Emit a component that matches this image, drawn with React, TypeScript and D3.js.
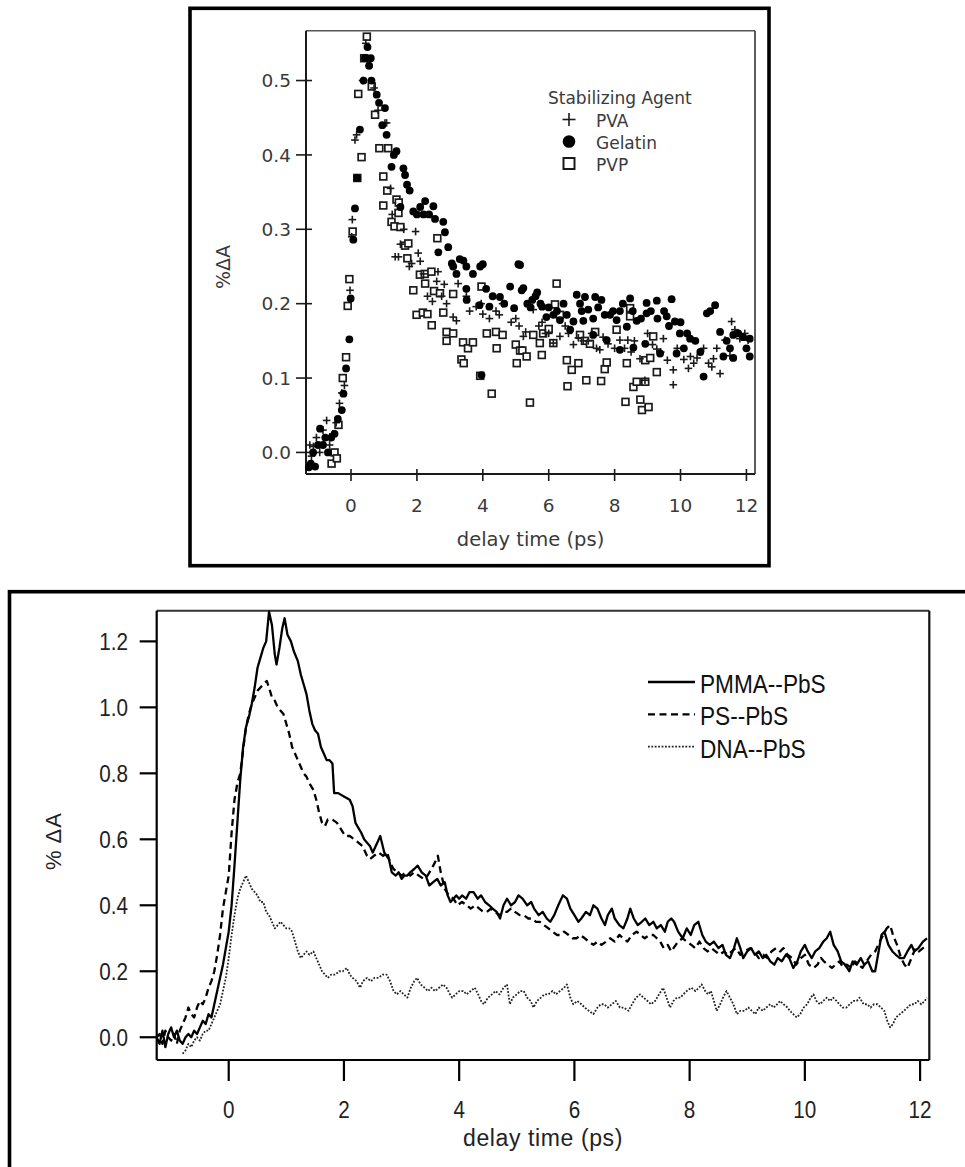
import * as d3 from 'd3';

// ---- top panel: transient absorption vs stabilizing agent (t in ps, %dA)
const pvaPoints: [number, number][] = [
  [-1.25, 0.01], [-1.2, -0.005], [-1.14, 0.008], [-1.05, 0.02], [-0.95, 0.0], [-0.85, 0.03],
  [-0.74, 0.043], [-0.65, 0.01], [-0.55, 0.025], [-0.45, 0.04], [-0.35, 0.066], [-0.28, 0.08],
  [-0.2, 0.09], [-0.03, 0.218], [0.02, 0.29], [0.04, 0.313], [0.12, 0.42], [0.17, 0.427],
  [0.35, 0.5], [0.45, 0.55], [0.55, 0.52], [0.7, 0.49], [0.82, 0.46], [1.03, 0.443],
  [1.08, 0.443], [1.2, 0.355], [1.25, 0.32], [1.34, 0.263], [1.44, 0.263], [1.5, 0.28],
  [1.6, 0.3], [1.77, 0.25], [1.84, 0.254], [1.96, 0.297], [2.04, 0.268], [2.1, 0.257],
  [2.2, 0.24], [2.32, 0.21], [2.47, 0.203], [2.6, 0.23], [2.64, 0.243], [2.75, 0.21],
  [2.83, 0.226], [2.9, 0.2], [3.1, 0.182], [3.2, 0.177], [3.25, 0.227], [3.5, 0.21],
  [3.6, 0.19], [3.8, 0.196], [3.95, 0.2], [4.0, 0.186], [4.2, 0.18], [4.4, 0.19],
  [4.5, 0.185], [4.6, 0.2], [4.86, 0.175], [5.0, 0.18], [5.1, 0.17], [5.23, 0.156],
  [5.3, 0.162], [5.53, 0.192], [5.7, 0.17], [5.8, 0.175], [5.9, 0.16], [6.0, 0.16],
  [6.14, 0.147], [6.34, 0.156], [6.5, 0.17], [6.6, 0.16], [6.75, 0.145], [6.9, 0.154],
  [7.05, 0.15], [7.2, 0.15], [7.3, 0.16], [7.45, 0.14], [7.55, 0.138], [7.65, 0.155],
  [7.8, 0.146], [8.0, 0.14], [8.16, 0.151], [8.3, 0.14], [8.4, 0.151], [8.5, 0.135],
  [8.6, 0.15], [8.77, 0.126], [8.92, 0.097], [9.0, 0.16], [9.15, 0.145], [9.28, 0.139],
  [9.4, 0.135], [9.48, 0.153], [9.6, 0.124], [9.78, 0.111], [9.78, 0.091], [9.9, 0.14],
  [10.1, 0.125], [10.24, 0.113], [10.3, 0.129], [10.4, 0.12], [10.5, 0.127], [10.7, 0.14],
  [10.85, 0.12], [10.95, 0.115], [11.0, 0.126], [11.1, 0.14], [11.2, 0.106], [11.35, 0.151],
  [11.5, 0.13], [11.55, 0.176], [11.65, 0.165], [11.8, 0.153], [11.95, 0.16], [12.05, 0.151],
];

const gelatinPoints: [number, number][] = [
  [-1.28, -0.02], [-1.22, -0.015], [-1.15, 0.0], [-1.09, -0.019], [-1.0, 0.01], [-0.94, 0.032],
  [-0.85, 0.01], [-0.78, 0.02], [-0.7, 0.0], [-0.6, 0.02], [-0.5, 0.025], [-0.4, 0.045],
  [-0.28, 0.057], [-0.23, 0.079], [-0.15, 0.113], [-0.05, 0.152], [-0.01, 0.207], [0.07, 0.286],
  [0.12, 0.328], [0.19, 0.369], [0.27, 0.434], [0.38, 0.5], [0.42, 0.53], [0.5, 0.545],
  [0.55, 0.52], [0.6, 0.53], [0.62, 0.5], [0.78, 0.481], [0.85, 0.47], [0.95, 0.44],
  [1.03, 0.463], [1.08, 0.427], [1.23, 0.384], [1.3, 0.4], [1.38, 0.405], [1.5, 0.33],
  [1.59, 0.382], [1.64, 0.373], [1.7, 0.36], [1.78, 0.352], [1.89, 0.324], [2.0, 0.32],
  [2.1, 0.33], [2.2, 0.32], [2.25, 0.338], [2.37, 0.32], [2.5, 0.331], [2.55, 0.314],
  [2.65, 0.269], [2.8, 0.31], [2.85, 0.296], [2.95, 0.276], [3.06, 0.254], [3.1, 0.25],
  [3.2, 0.24], [3.3, 0.26], [3.41, 0.258], [3.5, 0.25], [3.5, 0.22], [3.51, 0.205],
  [3.7, 0.24], [3.9, 0.198], [3.92, 0.25], [3.96, 0.104], [4.0, 0.253], [4.1, 0.22],
  [4.2, 0.196], [4.3, 0.21], [4.52, 0.209], [4.65, 0.2], [4.83, 0.223], [4.95, 0.194],
  [5.08, 0.253], [5.13, 0.252], [5.18, 0.218], [5.23, 0.221], [5.35, 0.2], [5.45, 0.195],
  [5.5, 0.205], [5.6, 0.21], [5.65, 0.215], [5.75, 0.2], [5.8, 0.196], [5.93, 0.182],
  [6.0, 0.195], [6.14, 0.185], [6.25, 0.19], [6.34, 0.178], [6.45, 0.2], [6.55, 0.185],
  [6.65, 0.165], [6.75, 0.176], [6.85, 0.212], [6.95, 0.2], [7.0, 0.19], [7.05, 0.177],
  [7.1, 0.209], [7.2, 0.192], [7.35, 0.18], [7.35, 0.158], [7.41, 0.209], [7.5, 0.195],
  [7.6, 0.205], [7.7, 0.185], [7.76, 0.151], [7.86, 0.185], [7.95, 0.19], [8.06, 0.178],
  [8.16, 0.19], [8.16, 0.138], [8.25, 0.2], [8.37, 0.169], [8.47, 0.207], [8.55, 0.19],
  [8.57, 0.141], [8.67, 0.177], [8.8, 0.18], [8.93, 0.146], [8.97, 0.187], [8.97, 0.201],
  [9.1, 0.19], [9.28, 0.204], [9.3, 0.18], [9.38, 0.133], [9.5, 0.19], [9.58, 0.183],
  [9.65, 0.17], [9.73, 0.206], [9.83, 0.176], [9.88, 0.133], [9.98, 0.16], [10.0, 0.175],
  [10.1, 0.14], [10.2, 0.16], [10.29, 0.153], [10.45, 0.15], [10.6, 0.135], [10.7, 0.102],
  [10.8, 0.187], [10.9, 0.19], [11.05, 0.198], [11.2, 0.162], [11.3, 0.129], [11.4, 0.15],
  [11.5, 0.14], [11.6, 0.158], [11.6, 0.127], [11.75, 0.16], [11.9, 0.155], [12.0, 0.14],
  [12.1, 0.153], [12.1, 0.129],
];

const pvpPoints: [number, number][] = [
  [-0.59, -0.015], [-0.5, 0.0], [-0.43, -0.008], [-0.38, 0.037], [-0.25, 0.1], [-0.15, 0.128],
  [-0.1, 0.197], [-0.05, 0.233], [0.05, 0.297], [0.19, 0.369], [0.22, 0.482], [0.32, 0.397],
  [0.4, 0.53], [0.48, 0.559], [0.63, 0.492], [0.73, 0.454], [0.86, 0.409], [0.98, 0.371],
  [0.98, 0.332], [1.1, 0.352], [1.13, 0.409], [1.23, 0.31], [1.32, 0.304], [1.38, 0.34],
  [1.44, 0.322], [1.45, 0.336], [1.5, 0.303], [1.64, 0.278], [1.71, 0.261], [1.74, 0.281],
  [1.89, 0.218], [1.99, 0.185], [2.09, 0.239], [2.18, 0.188], [2.24, 0.24], [2.25, 0.227],
  [2.32, 0.186], [2.44, 0.243], [2.45, 0.171], [2.52, 0.217], [2.62, 0.288], [2.7, 0.214],
  [2.8, 0.188], [2.9, 0.162], [2.9, 0.15], [3.1, 0.213], [3.1, 0.16], [3.35, 0.125],
  [3.4, 0.148], [3.42, 0.12], [3.55, 0.14], [3.7, 0.148], [3.92, 0.103], [3.96, 0.223],
  [4.12, 0.16], [4.27, 0.079], [4.4, 0.162], [4.42, 0.14], [4.6, 0.158], [5.0, 0.145],
  [5.03, 0.12], [5.13, 0.137], [5.2, 0.137], [5.33, 0.129], [5.43, 0.067], [5.53, 0.158],
  [5.73, 0.147], [5.79, 0.131], [5.83, 0.16], [6.0, 0.166], [6.14, 0.147], [6.19, 0.199],
  [6.24, 0.227], [6.34, 0.185], [6.55, 0.124], [6.57, 0.089], [6.7, 0.111], [6.9, 0.12],
  [6.95, 0.158], [7.1, 0.15], [7.14, 0.097], [7.25, 0.146], [7.41, 0.162], [7.59, 0.096],
  [7.7, 0.112], [7.76, 0.121], [8.06, 0.165], [8.33, 0.068], [8.37, 0.12], [8.47, 0.194],
  [8.47, 0.183], [8.57, 0.088], [8.67, 0.095], [8.78, 0.071], [8.83, 0.057], [8.93, 0.095],
  [8.93, 0.124], [9.03, 0.061], [9.08, 0.127], [9.17, 0.156], [9.28, 0.108],
];

const topTicksX = [0, 2, 4, 6, 8, 10, 12];
const topTicksY = [0.0, 0.1, 0.2, 0.3, 0.4, 0.5];
const topLegend = ['PVA', 'Gelatin', 'PVP'];

// ---- bottom panel: polymer-capped PbS traces
const pmmaTrace: [number, number][] = [
  [-1.25, 0.0], [-1.2, -0.02], [-1.15, 0.02], [-1.1, -0.03], [-1.05, 0.01], [-1.0, 0.03],
  [-0.95, 0.0], [-0.9, 0.02], [-0.85, -0.01], [-0.8, -0.02], [-0.75, 0.0], [-0.7, 0.01],
  [-0.65, 0.0], [-0.6, 0.02], [-0.55, 0.01], [-0.5, 0.03], [-0.45, 0.05], [-0.4, 0.04],
  [-0.35, 0.07], [-0.3, 0.06], [-0.25, 0.1], [-0.2, 0.14], [-0.15, 0.18], [-0.1, 0.22],
  [-0.05, 0.27], [0.0, 0.32], [0.05, 0.4], [0.1, 0.52], [0.15, 0.65], [0.2, 0.78],
  [0.25, 0.88], [0.3, 0.94], [0.35, 0.97], [0.4, 1.01], [0.45, 1.06], [0.5, 1.12],
  [0.55, 1.15], [0.6, 1.18], [0.65, 1.2], [0.7, 1.29], [0.75, 1.25], [0.8, 1.16],
  [0.83, 1.13], [0.88, 1.18], [0.93, 1.24], [0.97, 1.27], [1.02, 1.22], [1.08, 1.2],
  [1.13, 1.17], [1.2, 1.14], [1.25, 1.1], [1.3, 1.07], [1.35, 1.04], [1.4, 0.99],
  [1.45, 0.95], [1.5, 0.93], [1.55, 0.92], [1.6, 0.88], [1.65, 0.86], [1.7, 0.84],
  [1.75, 0.84], [1.8, 0.83], [1.83, 0.74], [1.9, 0.74], [2.0, 0.73], [2.1, 0.72],
  [2.15, 0.7], [2.2, 0.65], [2.3, 0.62], [2.35, 0.6], [2.45, 0.58], [2.5, 0.56],
  [2.58, 0.59], [2.63, 0.61], [2.7, 0.56], [2.78, 0.54], [2.83, 0.5], [2.9, 0.49],
  [2.95, 0.5], [3.0, 0.48], [3.05, 0.49], [3.1, 0.49], [3.15, 0.5], [3.22, 0.51],
  [3.28, 0.52], [3.35, 0.5], [3.42, 0.49], [3.48, 0.46], [3.55, 0.47], [3.62, 0.48],
  [3.68, 0.46], [3.75, 0.47], [3.8, 0.43], [3.85, 0.41], [3.9, 0.42], [3.95, 0.43],
  [4.0, 0.42], [4.05, 0.43], [4.12, 0.42], [4.18, 0.44], [4.25, 0.44], [4.32, 0.42],
  [4.38, 0.43], [4.45, 0.41], [4.52, 0.4], [4.58, 0.39], [4.65, 0.38], [4.71, 0.36],
  [4.77, 0.4], [4.83, 0.42], [4.9, 0.4], [4.97, 0.41], [5.03, 0.43], [5.1, 0.42],
  [5.18, 0.4], [5.25, 0.41], [5.3, 0.39], [5.38, 0.37], [5.45, 0.38], [5.52, 0.36],
  [5.58, 0.35], [5.65, 0.37], [5.72, 0.4], [5.8, 0.43], [5.87, 0.42], [5.93, 0.39],
  [6.0, 0.37], [6.07, 0.35], [6.12, 0.36], [6.2, 0.38], [6.27, 0.37], [6.33, 0.4],
  [6.4, 0.39], [6.47, 0.36], [6.53, 0.34], [6.58, 0.37], [6.65, 0.39], [6.7, 0.36],
  [6.78, 0.34], [6.85, 0.33], [6.92, 0.36], [6.97, 0.39], [7.03, 0.36], [7.1, 0.34],
  [7.17, 0.35], [7.23, 0.36], [7.3, 0.34], [7.37, 0.35], [7.43, 0.33], [7.5, 0.34],
  [7.57, 0.32], [7.62, 0.35], [7.68, 0.36], [7.73, 0.35], [7.8, 0.32], [7.88, 0.3],
  [7.95, 0.33], [8.02, 0.31], [8.08, 0.34], [8.15, 0.35], [8.22, 0.31], [8.28, 0.29],
  [8.35, 0.28], [8.42, 0.29], [8.5, 0.27], [8.57, 0.28], [8.63, 0.25], [8.7, 0.24],
  [8.77, 0.27], [8.82, 0.3], [8.88, 0.27], [8.93, 0.24], [9.0, 0.26], [9.07, 0.27],
  [9.13, 0.25], [9.2, 0.26], [9.27, 0.24], [9.33, 0.25], [9.4, 0.23], [9.47, 0.22],
  [9.53, 0.24], [9.6, 0.23], [9.67, 0.25], [9.73, 0.24], [9.8, 0.21], [9.87, 0.23],
  [9.93, 0.26], [10.0, 0.28], [10.05, 0.26], [10.12, 0.24], [10.18, 0.26], [10.25, 0.27],
  [10.32, 0.29], [10.38, 0.3], [10.44, 0.32], [10.5, 0.28], [10.57, 0.26], [10.63, 0.23],
  [10.7, 0.22], [10.77, 0.2], [10.83, 0.23], [10.9, 0.22], [10.97, 0.24], [11.03, 0.22],
  [11.1, 0.23], [11.17, 0.2], [11.22, 0.2], [11.28, 0.26], [11.33, 0.31], [11.38, 0.32],
  [11.45, 0.28], [11.52, 0.26], [11.58, 0.25], [11.65, 0.24], [11.72, 0.24], [11.78, 0.26],
  [11.85, 0.28], [11.9, 0.26], [11.97, 0.27], [12.05, 0.29], [12.12, 0.3],
];

const psTrace: [number, number][] = [
  [-1.25, 0.0], [-1.2, 0.01], [-1.15, -0.02], [-1.1, 0.02], [-1.05, 0.0], [-1.0, -0.01],
  [-0.95, 0.01], [-0.9, -0.02], [-0.85, 0.02], [-0.8, 0.04], [-0.75, 0.06], [-0.7, 0.09],
  [-0.65, 0.07], [-0.6, 0.06], [-0.55, 0.09], [-0.5, 0.11], [-0.45, 0.1], [-0.4, 0.12],
  [-0.35, 0.15], [-0.3, 0.17], [-0.25, 0.2], [-0.2, 0.25], [-0.15, 0.31], [-0.1, 0.39],
  [-0.05, 0.44], [0.0, 0.49], [0.05, 0.62], [0.1, 0.72], [0.15, 0.77], [0.2, 0.8],
  [0.25, 0.87], [0.3, 0.94], [0.35, 0.98], [0.4, 1.01], [0.45, 1.03], [0.5, 1.05],
  [0.55, 1.06], [0.6, 1.07], [0.66, 1.08], [0.7, 1.06], [0.75, 1.03], [0.8, 1.02],
  [0.85, 1.0], [0.9, 0.99], [0.95, 0.98], [1.0, 0.95], [1.05, 0.92], [1.1, 0.88],
  [1.15, 0.86], [1.2, 0.84], [1.25, 0.82], [1.3, 0.8], [1.35, 0.79], [1.4, 0.77],
  [1.47, 0.75], [1.52, 0.72], [1.57, 0.68], [1.62, 0.65], [1.67, 0.64], [1.72, 0.66],
  [1.8, 0.66], [1.88, 0.65], [1.95, 0.63], [2.02, 0.61], [2.1, 0.61], [2.18, 0.6],
  [2.25, 0.59], [2.32, 0.58], [2.4, 0.55], [2.45, 0.54], [2.52, 0.55], [2.6, 0.56],
  [2.68, 0.55], [2.75, 0.56], [2.8, 0.53], [2.86, 0.51], [2.93, 0.5], [3.0, 0.49],
  [3.08, 0.5], [3.15, 0.49], [3.22, 0.5], [3.3, 0.49], [3.38, 0.48], [3.45, 0.49],
  [3.52, 0.51], [3.58, 0.53], [3.63, 0.55], [3.68, 0.5], [3.75, 0.45], [3.82, 0.43],
  [3.9, 0.42], [3.97, 0.4], [4.05, 0.41], [4.13, 0.4], [4.2, 0.39], [4.28, 0.4],
  [4.35, 0.39], [4.42, 0.38], [4.48, 0.38], [4.55, 0.39], [4.62, 0.38], [4.7, 0.37],
  [4.77, 0.38], [4.83, 0.38], [4.9, 0.39], [4.97, 0.38], [5.05, 0.37], [5.12, 0.37],
  [5.2, 0.36], [5.27, 0.36], [5.33, 0.35], [5.4, 0.35], [5.47, 0.34], [5.55, 0.33],
  [5.62, 0.32], [5.7, 0.31], [5.75, 0.31], [5.82, 0.32], [5.9, 0.31], [5.97, 0.3],
  [6.04, 0.3], [6.1, 0.31], [6.18, 0.3], [6.25, 0.29], [6.33, 0.28], [6.4, 0.29],
  [6.47, 0.28], [6.55, 0.29], [6.62, 0.3], [6.7, 0.29], [6.78, 0.31], [6.85, 0.3],
  [6.92, 0.29], [7.0, 0.31], [7.08, 0.32], [7.15, 0.31], [7.22, 0.3], [7.3, 0.31],
  [7.37, 0.31], [7.43, 0.3], [7.49, 0.29], [7.55, 0.27], [7.62, 0.28], [7.68, 0.26],
  [7.72, 0.27], [7.8, 0.29], [7.88, 0.3], [7.95, 0.29], [8.03, 0.28], [8.1, 0.27],
  [8.17, 0.29], [8.24, 0.27], [8.31, 0.26], [8.38, 0.27], [8.45, 0.26], [8.52, 0.25],
  [8.6, 0.26], [8.66, 0.25], [8.73, 0.26], [8.8, 0.27], [8.88, 0.25], [8.95, 0.26],
  [9.05, 0.27], [9.12, 0.26], [9.2, 0.24], [9.28, 0.25], [9.35, 0.24], [9.42, 0.26],
  [9.5, 0.27], [9.57, 0.26], [9.63, 0.27], [9.7, 0.25], [9.78, 0.24], [9.85, 0.22],
  [9.93, 0.24], [10.0, 0.25], [10.07, 0.22], [10.15, 0.21], [10.22, 0.22], [10.28, 0.24],
  [10.33, 0.23], [10.4, 0.22], [10.47, 0.21], [10.53, 0.22], [10.6, 0.23], [10.67, 0.21],
  [10.73, 0.22], [10.8, 0.21], [10.87, 0.23], [10.93, 0.22], [11.0, 0.21], [11.07, 0.23],
  [11.15, 0.25], [11.22, 0.26], [11.3, 0.29], [11.36, 0.31], [11.42, 0.33], [11.48, 0.34],
  [11.53, 0.31], [11.6, 0.28], [11.67, 0.24], [11.73, 0.22], [11.78, 0.21], [11.85, 0.24],
  [11.92, 0.27], [11.98, 0.26], [12.05, 0.27], [12.12, 0.28],
];

const dnaTrace: [number, number][] = [
  [-0.8, -0.05], [-0.75, -0.04], [-0.7, -0.02], [-0.65, -0.03], [-0.6, -0.01], [-0.55, 0.0],
  [-0.5, -0.01], [-0.45, 0.01], [-0.4, 0.02], [-0.35, 0.02], [-0.3, 0.04], [-0.25, 0.06],
  [-0.2, 0.08], [-0.15, 0.1], [-0.1, 0.14], [-0.05, 0.18], [0.0, 0.24], [0.05, 0.31],
  [0.1, 0.37], [0.15, 0.42], [0.2, 0.45], [0.25, 0.47], [0.3, 0.49], [0.35, 0.47],
  [0.4, 0.45], [0.45, 0.44], [0.5, 0.43], [0.55, 0.41], [0.6, 0.41], [0.65, 0.38],
  [0.7, 0.37], [0.75, 0.35], [0.8, 0.33], [0.85, 0.34], [0.9, 0.35], [0.95, 0.34],
  [1.0, 0.33], [1.05, 0.33], [1.1, 0.32], [1.15, 0.29], [1.2, 0.26], [1.25, 0.24],
  [1.3, 0.25], [1.35, 0.26], [1.4, 0.25], [1.47, 0.26], [1.52, 0.24], [1.57, 0.22],
  [1.62, 0.2], [1.67, 0.19], [1.72, 0.18], [1.78, 0.19], [1.85, 0.19], [1.92, 0.2],
  [1.98, 0.2], [2.05, 0.21], [2.1, 0.19], [2.15, 0.18], [2.22, 0.17], [2.28, 0.15],
  [2.33, 0.17], [2.4, 0.18], [2.47, 0.17], [2.53, 0.18], [2.6, 0.18], [2.67, 0.19],
  [2.74, 0.19], [2.8, 0.17], [2.86, 0.14], [2.92, 0.13], [2.98, 0.14], [3.04, 0.13],
  [3.1, 0.12], [3.16, 0.15], [3.22, 0.17], [3.27, 0.18], [3.33, 0.16], [3.4, 0.15],
  [3.46, 0.14], [3.52, 0.15], [3.58, 0.14], [3.65, 0.15], [3.72, 0.16], [3.78, 0.15],
  [3.84, 0.13], [3.88, 0.12], [3.94, 0.13], [4.0, 0.14], [4.07, 0.14], [4.13, 0.13],
  [4.2, 0.14], [4.27, 0.15], [4.33, 0.13], [4.38, 0.11], [4.43, 0.1], [4.5, 0.12],
  [4.57, 0.13], [4.63, 0.14], [4.7, 0.13], [4.77, 0.15], [4.83, 0.16], [4.88, 0.1],
  [4.93, 0.12], [5.0, 0.13], [5.06, 0.14], [5.12, 0.14], [5.18, 0.12], [5.24, 0.11],
  [5.29, 0.09], [5.35, 0.11], [5.42, 0.12], [5.48, 0.13], [5.55, 0.13], [5.62, 0.14],
  [5.68, 0.13], [5.75, 0.14], [5.82, 0.15], [5.87, 0.16], [5.93, 0.12], [5.98, 0.1],
  [6.05, 0.11], [6.12, 0.1], [6.18, 0.09], [6.25, 0.08], [6.33, 0.07], [6.4, 0.09],
  [6.46, 0.1], [6.52, 0.1], [6.58, 0.09], [6.65, 0.1], [6.72, 0.11], [6.79, 0.09],
  [6.86, 0.09], [6.94, 0.08], [7.0, 0.1], [7.07, 0.12], [7.14, 0.13], [7.2, 0.12],
  [7.27, 0.11], [7.33, 0.1], [7.4, 0.11], [7.47, 0.13], [7.54, 0.15], [7.6, 0.12],
  [7.66, 0.09], [7.72, 0.11], [7.78, 0.12], [7.84, 0.12], [7.89, 0.13], [7.95, 0.14],
  [8.03, 0.15], [8.1, 0.14], [8.16, 0.15], [8.21, 0.16], [8.27, 0.14], [8.32, 0.13],
  [8.37, 0.14], [8.42, 0.11], [8.47, 0.08], [8.53, 0.1], [8.58, 0.12], [8.64, 0.14],
  [8.7, 0.12], [8.76, 0.1], [8.82, 0.07], [8.88, 0.08], [8.95, 0.08], [9.02, 0.09],
  [9.08, 0.08], [9.14, 0.07], [9.2, 0.09], [9.27, 0.08], [9.33, 0.09], [9.4, 0.1],
  [9.46, 0.09], [9.52, 0.1], [9.57, 0.11], [9.63, 0.1], [9.7, 0.09], [9.74, 0.08],
  [9.8, 0.07], [9.86, 0.06], [9.92, 0.07], [9.98, 0.09], [10.04, 0.1], [10.1, 0.12],
  [10.15, 0.13], [10.2, 0.11], [10.26, 0.1], [10.32, 0.11], [10.38, 0.12], [10.44, 0.11],
  [10.49, 0.12], [10.55, 0.11], [10.6, 0.1], [10.66, 0.09], [10.72, 0.09], [10.78, 0.1],
  [10.84, 0.11], [10.9, 0.11], [10.95, 0.12], [11.02, 0.1], [11.08, 0.1], [11.14, 0.09],
  [11.2, 0.1], [11.26, 0.1], [11.32, 0.09], [11.38, 0.08], [11.43, 0.05], [11.48, 0.03],
  [11.53, 0.04], [11.58, 0.06], [11.65, 0.07], [11.72, 0.08], [11.78, 0.09], [11.84, 0.1],
  [11.9, 0.1], [11.96, 0.11], [12.02, 0.1], [12.08, 0.11], [12.12, 0.12],
];

const bottomTicksX = [0, 2, 4, 6, 8, 10, 12];
const bottomTicksY = [0.0, 0.2, 0.4, 0.6, 0.8, 1.0, 1.2];
const bottomLegend = ['PMMA--PbS', 'PS--PbS', 'DNA--PbS'];

const INK = '#1a1a1a';
const TOP_FONT = '"DejaVu Sans", sans-serif';
const BOT_FONT = '"Liberation Sans", Arial, sans-serif';

function Plus({ x, y, s, w }: { x: number; y: number; s: number; w: number }) {
  return (
    <g stroke={INK} strokeWidth={w}>
      <line x1={x - s} x2={x + s} y1={y} y2={y} />
      <line x1={x} x2={x} y1={y - s} y2={y + s} />
    </g>
  );
}

function TopChart() {
  const x = d3.scaleLinear().domain([-1.366, 12.26]).range([306, 755]);
  const y = d3.scaleLinear().domain([-0.029, 0.567]).range([474, 30.7]);
  const [x0, x1] = x.range();
  const [y0, y1] = y.range();

  return (
    <g fontFamily={TOP_FONT} fill={INK}>
      <rect x={190} y={8.3} width={579} height={557.4} fill="none" stroke="#000" strokeWidth={3.6} />

      {/* frame */}
      <line x1={x0} x2={x1} y1={y1} y2={y1} stroke="#555" strokeWidth={1.5} />
      <line x1={x1} x2={x1} y1={y1} y2={y0} stroke="#333" strokeWidth={1.6} />
      <line x1={x0} x2={x0} y1={y1} y2={y0} stroke={INK} strokeWidth={2} />
      <line x1={x0} x2={x1} y1={y0} y2={y0} stroke={INK} strokeWidth={2} />

      {topTicksY.map((t) => (
        <g key={t}>
          <line x1={x0 - 10} x2={x0 + 6} y1={y(t)} y2={y(t)} stroke={INK} strokeWidth={1.6} />
          <text x={291} y={y(t)} dy="0.36em" textAnchor="end" fontSize={18.5} fill="#3a3a3a">
            {t.toFixed(1)}
          </text>
        </g>
      ))}
      {topTicksX.map((t) => (
        <g key={t}>
          <line x1={x(t)} x2={x(t)} y1={y0 - 5} y2={y0 + 7} stroke={INK} strokeWidth={1.6} />
          <text x={x(t)} y={512} textAnchor="middle" fontSize={18.5} fill="#3a3a3a">
            {t}
          </text>
        </g>
      ))}

      <text x={(x0 + x1) / 2} y={546} textAnchor="middle" fontSize={19.5} fill="#3a3a3a">
        delay time (ps)
      </text>
      <text transform="translate(230,267) rotate(-90)" textAnchor="middle" fontSize={19} fill="#3a3a3a">
        %ΔA
      </text>

      {/* markers */}
      {pvpPoints.map(([t, v], i) => (
        <rect key={`s${i}`} x={x(t) - 3.4} y={y(v) - 3.4} width={6.8} height={6.8}
          fill="#fff" stroke={INK} strokeWidth={1.7} />
      ))}
      {pvaPoints.map(([t, v], i) => (
        <Plus key={`p${i}`} x={x(t)} y={y(v)} s={3.8} w={1.6} />
      ))}
      {gelatinPoints.map(([t, v], i) => (
        <circle key={`g${i}`} cx={x(t)} cy={y(v)} r={3.9} fill="#000" />
      ))}

      {/* legend */}
      <text x={548} y={104} fontSize={17} fill="#3a3a3a">Stabilizing Agent</text>
      {topLegend.map((name, i) => {
        const cy = 119.5 + i * 22;
        return (
          <g key={name}>
            {i === 0 && <Plus x={569} y={cy} s={6.5} w={1.6} />}
            {i === 1 && <circle cx={569} cy={cy} r={6.3} fill="#000" />}
            {i === 2 && (
              <rect x={563.5} y={cy - 5.5} width={11} height={11} fill="#fff" stroke={INK} strokeWidth={2} />
            )}
            <text x={596} y={cy + 7} fontSize={17} fill="#3a3a3a">{name}</text>
          </g>
        );
      })}
    </g>
  );
}

function BottomChart() {
  const x = d3.scaleLinear().domain([-1.25, 12.16]).range([156.7, 929.3]);
  const y = d3.scaleLinear().domain([-0.069, 1.293]).range([1060, 610.7]);
  const [x0, x1] = x.range();
  const [y0, y1] = y.range();
  const line = d3.line<[number, number]>().x((d) => x(d[0])).y((d) => y(d[1]));

  const styles = [
    { data: pmmaTrace, width: 2.3, dash: undefined as string | undefined, color: '#000' },
    { data: psTrace, width: 2.3, dash: '7 4.5', color: '#000' },
    { data: dnaTrace, width: 1.8, dash: '1.8 1.6', color: '#222' },
  ];

  return (
    <g fontFamily={BOT_FONT} fill={INK}>
      <rect x={9.5} y={591.7} width={1000} height={700} fill="none" stroke="#000" strokeWidth={3.6} />

      <line x1={x0} x2={x1} y1={y1} y2={y1} stroke="#333" strokeWidth={2} />
      <line x1={x1} x2={x1} y1={y1} y2={y0} stroke="#111" strokeWidth={2.2} />
      <line x1={x0} x2={x0} y1={y1} y2={y0} stroke="#000" strokeWidth={2.2} />
      <line x1={x0} x2={x1} y1={y0} y2={y0} stroke="#000" strokeWidth={2.2} />

      {bottomTicksY.map((t) => (
        <g key={t}>
          <line x1={x0 - 17} x2={x0} y1={y(t)} y2={y(t)} stroke="#000" strokeWidth={2.2} />
          <text transform={`translate(128,${y(t)}) scale(0.9,1.05)`} dy="0.36em" textAnchor="end"
            fontSize={23} fill="#222">
            {t.toFixed(1)}
          </text>
        </g>
      ))}
      {bottomTicksX.map((t) => (
        <g key={t}>
          <line x1={x(t)} x2={x(t)} y1={y0} y2={y0 + 21} stroke="#000" strokeWidth={2.2} />
          <text transform={`translate(${x(t)},1118) scale(0.9,1.05)`} textAnchor="middle"
            fontSize={23} fill="#222">
            {t}
          </text>
        </g>
      ))}

      <text x={(x0 + x1) / 2} y={1146} textAnchor="middle" fontSize={23} fill="#222" letterSpacing={0.6}>
        delay time (ps)
      </text>
      <text transform="translate(61,841) rotate(-90)" textAnchor="middle" fontSize={22} fill="#222"
        letterSpacing={1}>
        % ΔA
      </text>

      {styles.map((s, i) => (
        <path key={i} d={line(s.data) ?? ''} fill="none" stroke={s.color} strokeWidth={s.width}
          strokeDasharray={s.dash} strokeLinejoin="round" />
      ))}

      {bottomLegend.map((name, i) => {
        const base = 693 + i * 32.3;
        const ly = base - 11;
        const s = styles[i];
        return (
          <g key={name}>
            <line x1={648} x2={695} y1={ly} y2={ly} stroke={s.color} strokeWidth={s.width}
              strokeDasharray={s.dash} />
            <text transform={`translate(700,${base}) scale(0.87,1)`} fontSize={26} fill="#111">
              {name}
            </text>
          </g>
        );
      })}
    </g>
  );
}

export default function App() {
  return (
    <svg width={965} height={1167} style={{ position: 'absolute', left: 0, top: 0, background: '#fff' }}>
      <rect width={965} height={1167} fill="#fff" />
      <TopChart />
      <BottomChart />
    </svg>
  );
}
